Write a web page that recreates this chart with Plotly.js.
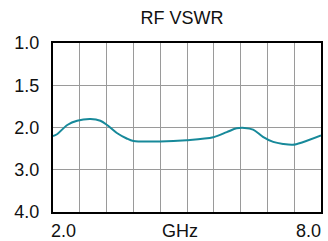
<!DOCTYPE html>
<html><head><meta charset="utf-8">
<script src="https://cdn.plot.ly/plotly-3.0.1.min.js"></script>
<style>html,body{margin:0;padding:0;background:#fff}#c{width:328px;height:241px}</style>
</head><body><div id="c"></div>
<script>
// Frequency (GHz) and VSWR
const freqGHz = [2.0, 2.09, 2.32, 2.54, 2.84, 3.06, 3.21, 3.43, 3.65, 3.80, 4.40, 4.99, 5.59, 5.89, 6.11, 6.29, 6.48, 6.70, 6.93, 7.15, 7.37, 7.59, 8.0];
const vswr    = [2.20, 2.16, 1.97, 1.92, 1.90, 1.92, 1.97, 2.13, 2.26, 2.32, 2.33, 2.30, 2.23, 2.11, 2.02, 2.01, 2.05, 2.22, 2.34, 2.39, 2.41, 2.35, 2.19];
// y-axis tick values (equally spaced on the chart)
const yTickValues = [1.0, 1.5, 2.0, 3.0, 4.0];
const yTickLabels = ['1.0', '1.5', '2.0', '3.0', '4.0'];
const xTickLabels = ['2.0', 'GHz', '8.0'];

// piecewise-linear VSWR scale: each tick interval has the same height
function toScale(v) {
  for (let i = 0; i < yTickValues.length - 1; i++) {
    const a = yTickValues[i], b = yTickValues[i + 1];
    if (v <= b || i === yTickValues.length - 2) return i + (v - a) / (b - a);
  }
}
const yPos = vswr.map(toScale);
const yTickPos = yTickValues.map(toScale);

const font = 'Liberation Sans, Arial, sans-serif';
const fs = 18;
const trace = {
  x: freqGHz, y: yPos, mode: 'lines', type: 'scatter',
  line: {color: '#17899a', width: 2, shape: 'spline', smoothing: 0.9},
  hoverinfo: 'skip'
};
const layout = {
  width: 328, height: 241,
  margin: {l: 52.5, r: 6.5, t: 42.5, b: 29.3},
  paper_bgcolor: '#fff', plot_bgcolor: '#fff',
  showlegend: false,
  title: {text: 'RF VSWR', font: {family: font, size: fs, color: '#111'},
          xref: 'container', yref: 'container', x: 182/328, y: 1 - 18/241, xanchor: 'center', yanchor: 'middle'},
  xaxis: {range: [2, 8], tick0: 2, dtick: 0.6, showticklabels: false, ticks: '',
          showgrid: true, gridcolor: '#9a9a9a', gridwidth: 1, zeroline: false,
          showline: true, mirror: true, linecolor: '#000', linewidth: 2},
  yaxis: {range: [4, 0], tickmode: 'array', tickvals: yTickPos, ticktext: yTickLabels,
          ticks: '', ticklabelstandoff: 8,
          tickfont: {family: font, size: fs, color: '#111'},
          showgrid: true, gridcolor: '#9a9a9a', gridwidth: 1, zeroline: false,
          showline: true, mirror: true, linecolor: '#000', linewidth: 2},
  annotations: [
    {text: xTickLabels[0], xref: 'paper', yref: 'paper', x: 0, y: 0, xanchor: 'left', yanchor: 'top', yshift: -7, xshift: -4,
     showarrow: false, font: {family: font, size: fs, color: '#111'}},
    {text: xTickLabels[1], xref: 'x', yref: 'paper', x: 4.85, y: 0, xanchor: 'center', yanchor: 'top', yshift: -7,
     showarrow: false, font: {family: font, size: fs, color: '#111'}},
    {text: xTickLabels[2], xref: 'paper', yref: 'paper', x: 1, y: 0, xanchor: 'right', yanchor: 'top', yshift: -7, xshift: 2,
     showarrow: false, font: {family: font, size: fs, color: '#111'}}
  ]
};
Plotly.newPlot('c', [trace], layout, {displayModeBar: false, staticPlot: true});
</script></body></html>
